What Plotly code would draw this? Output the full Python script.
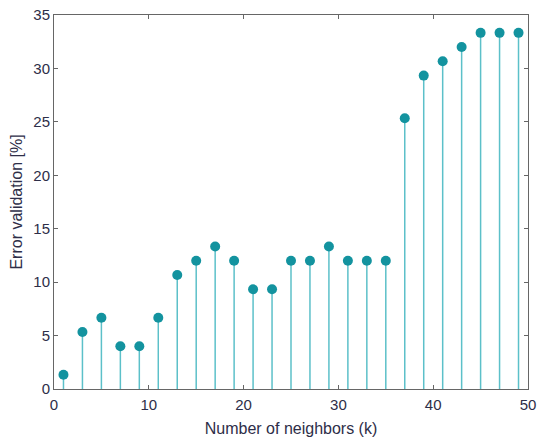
import plotly.graph_objects as go

k = list(range(1, 50, 2))
err = [1.33, 5.33, 6.67, 4.0, 4.0, 6.67, 10.67, 12.0, 13.33, 12.0, 9.33, 9.33, 12.0,
       12.0, 13.33, 12.0, 12.0, 12.0, 25.33, 29.33, 30.67, 32.0, 33.33, 33.33, 33.33]

sx, sy = [], []
for a, b in zip(k, err):
    sx += [a, a, None]
    sy += [0, b, None]

FONT = "Liberation Sans, Arial"
TXT = "#2e2e48"

fig = go.Figure()
fig.add_trace(go.Scatter(x=sx, y=sy, mode="lines", line=dict(color="#5cc0c9", width=1.5),
                         hoverinfo="skip", showlegend=False))
fig.add_trace(go.Scatter(x=k, y=err, mode="markers",
                         marker=dict(color="#13939f", size=10), showlegend=False))

axis_common = dict(showgrid=False, zeroline=False, showline=True, linecolor="#666666",
                   linewidth=1, mirror="ticks", ticks="inside", ticklen=4, tickcolor="#666666",
                   automargin=False,
                   tickfont=dict(family=FONT, size=15, color=TXT))
fig.update_xaxes(range=[0, 50], dtick=10, tick0=0, ticklabelstandoff=2,
                 title=dict(text="Number of neighbors (k)", standoff=10,
                            font=dict(family=FONT, size=16, color=TXT)),
                 **axis_common)
fig.update_yaxes(range=[0, 35], dtick=5, tick0=0,
                 title=dict(text="Error validation [%]", standoff=6,
                            font=dict(family=FONT, size=16, color=TXT)),
                 **axis_common)
fig.update_layout(width=537, height=437, margin=dict(l=54, r=9, t=15, b=48),
                  plot_bgcolor="white", paper_bgcolor="white")
fig.write_html("out.html")
